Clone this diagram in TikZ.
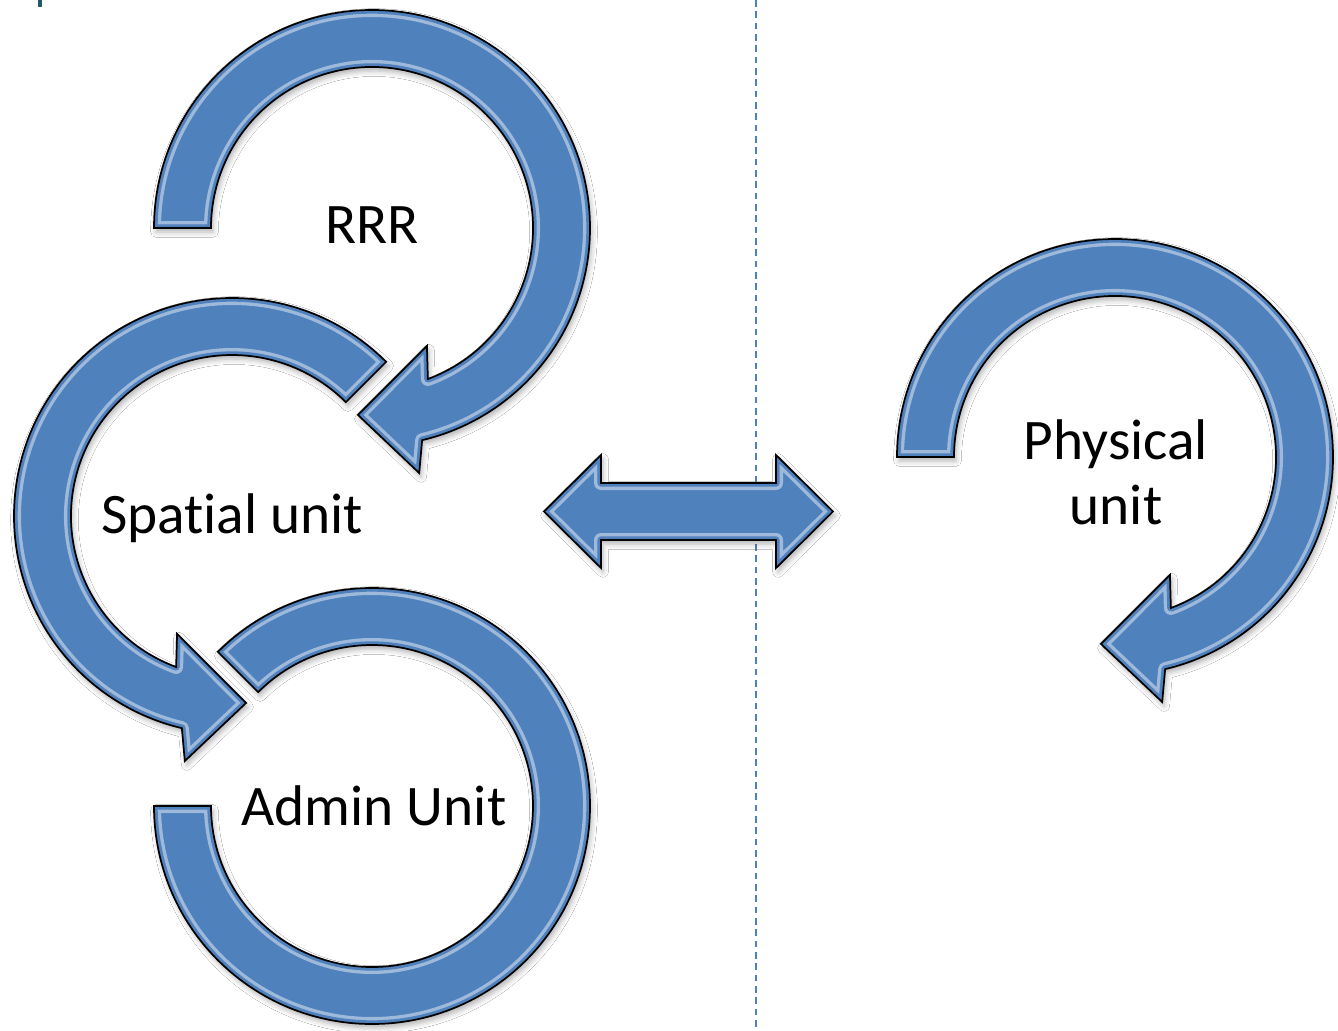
\documentclass[tikz,border=0pt]{standalone}
\usepackage{fontspec}
\setmainfont[RawFeature={-liga;-calt}]{Carlito}
\usetikzlibrary{shadows.blur}

\definecolor{arrowblue}{HTML}{4F81BD}
\definecolor{dividerblue}{HTML}{4F81BD}
\definecolor{tickteal}{HTML}{215968}

% Clockwise circular arrow (tail at 180 deg, head near 270 deg), centre #1,#2
\newcommand{\cwarrowpath}[2]{%
  ([shift={(#1,#2)}]180:218) arc[start angle=180,end angle=-76.7,radius=218]
  -- ([shift={(#1,#2)}]-79.1:249.5)
  -- ([shift={(#1,#2)}]-94.3:187.5)
  -- ([shift={(#1,#2)}]-65:130)
  -- ([shift={(#1,#2)}]-69.7:161) arc[start angle=-69.7,end angle=180,radius=161]
  -- cycle}

% Counter-clockwise circular arrow (tail at 45 deg, head near 270 deg)
\newcommand{\ccwarrowpath}[2]{%
  ([shift={(#1,#2)}]45:218) arc[start angle=45,end angle=256.7,radius=218]
  -- ([shift={(#1,#2)}]259.1:249.5)
  -- ([shift={(#1,#2)}]274.3:187.5)
  -- ([shift={(#1,#2)}]245:130)
  -- ([shift={(#1,#2)}]249.7:161) arc[start angle=249.7,end angle=45,radius=161]
  -- cycle}

% Block arc without head (from 180 deg round the bottom to 135 deg)
\newcommand{\blockarcpath}[2]{%
  ([shift={(#1,#2)}]180:218) arc[start angle=180,end angle=495,radius=218]
  -- ([shift={(#1,#2)}]135:161) arc[start angle=495,end angle=180,radius=161]
  -- cycle}

% Horizontal double arrow
\newcommand{\dblarrowpath}{%
  (544,-511.5) -- (601,-455) -- (601,-483) -- (776,-483) -- (776,-455)
  -- (833,-511.5) -- (776,-568) -- (776,-540) -- (601,-540) -- (601,-568) -- cycle}

% Glassy shape: soft shadow, blue fill, inner highlight band, dark outline
\newcommand{\glassshape}[1]{%
  \path[blur shadow={shadow xshift=1.5pt,shadow yshift=-3pt,shadow blur radius=4pt,shadow opacity=30}] #1;
  \fill[arrowblue] #1;
  \begin{scope}
    \clip #1;
    \draw[white,opacity=0.45,line width=10.5pt,line join=round] #1;
    \draw[arrowblue,line width=5.5pt,line join=round] #1;
  \end{scope}
  \draw[black,line width=1.3pt,line join=miter] #1;}

\tikzset{
  label/.style={font=\fontsize{43}{48.5}\selectfont,text=black,inner sep=0pt},
  divider/.style={dividerblue,line width=1.2pt,dash pattern=on 5pt off 3.5pt}
}

\begin{document}
\begin{tikzpicture}[x=0.75pt,y=0.75pt]
  \useasboundingbox[fill=white] (0,0) rectangle (1338,-1031);

  % small tick at the top left corner
  \fill[tickteal] (38,0) rectangle (42,-7);

  % vertical dashed divider
  \coordinate (divtop) at (756,0);
  \coordinate (divbot) at (756,-1031);
  \draw[divider] (divtop) -- (divbot);

  % circular arrows
  \glassshape{\ccwarrowpath{232}{-516}}
  \glassshape{\blockarcpath{372}{-806}}
  \glassshape{\cwarrowpath{372}{-228}}
  \glassshape{\cwarrowpath{1115}{-457}}

  % double arrow between the two sides
  \glassshape{\dblarrowpath}

  % labels
  \node[label,anchor=base] (rrr) at (372,-243) {RRR};
  \node[label,anchor=base] (spatial) at (232,-533) {Spat\kern0pt ial unit};
  \node[label,anchor=base] (admin) at (374,-825) {Admin Unit};
  \node[label,anchor=base,align=center] (physical) at (1116,-524) {Physical\\unit};
\end{tikzpicture}
\end{document}
